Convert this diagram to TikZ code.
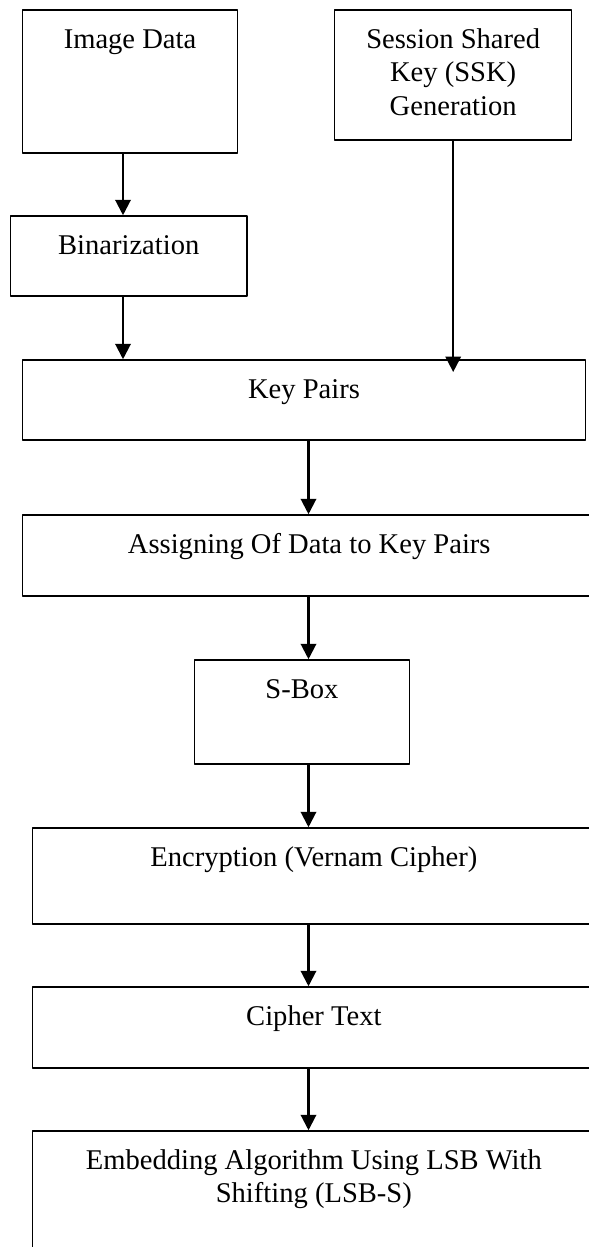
\documentclass[tikz,border=0pt]{standalone}
\usepackage{fontspec}
\setmainfont{Liberation Serif}
\usetikzlibrary{arrows.meta}
\begin{document}
\begin{tikzpicture}[x=0.42pt,y=-0.42pt,line join=round,>={Triangle[length=6.5pt,width=6.5pt]},font=\fontsize{12}{13.9}\selectfont,
box/.style 2 args={draw,line width=0.65pt,minimum width=#1*0.42pt,minimum height=#2*0.42pt,inner sep=0pt},
txt/.style={anchor=north,inner sep=0pt,yshift=-6.7pt,align=center},
flow/.style={->,line width=0.9pt}]
\useasboundingbox (0,0) rectangle (589,1247);
\clip (0,0) rectangle (589,1247);
% boxes, text sits near the top edge
\node[box={215}{143},label={[txt]north:\strut Image Data}] (img) at (130,81.5) {};
\node[box={237}{130},label={[txt]north:{\strut Session Shared\\Key (SSK)\\Generation}}] (ssk) at (453.2,75) {};
\node[box={236.5}{80},label={[txt]north:\strut Binarization}] (bin) at (128.7,256) {};
\node[box={563}{80},label={[txt]north:\strut Key Pairs}] (key) at (304,400) {};
\node[box={573.5}{81},label={[txt]north:\strut Assigning Of Data to Key Pairs}] (assign) at (309.25,555.5) {};
\node[box={215}{104},label={[txt]north:\strut S-Box}] (sbox) at (302,712) {};
\node[box={562.3}{96},label={[txt]north:\strut Encryption (Vernam Cipher)}] (enc) at (313.85,876) {};
\node[box={562.3}{81},label={[txt]north:\strut Cipher Text}] (cipher) at (313.85,1027.5) {};
\node[box={562.3}{159},label={[txt]north:{\strut Embedding Algorithm Using LSB With\\Shifting (LSB-S)}}] (emb) at (313.85,1210.5) {};
% arrows
\coordinate (left) at (123,0);
\coordinate (mid) at (308.5,0);
\coordinate (kin) at (453.2,372);
\draw[flow] (img.south -| left) -- (bin.north -| left);
\draw[flow] (bin.south -| left) -- (key.north -| left);
\draw[flow] (ssk.south) -- (kin);
\foreach \a/\b in {key/assign,assign/sbox,sbox/enc,enc/cipher,cipher/emb}
  \draw[flow] (\a.south -| mid) -- (\b.north -| mid);
\end{tikzpicture}
\end{document}
